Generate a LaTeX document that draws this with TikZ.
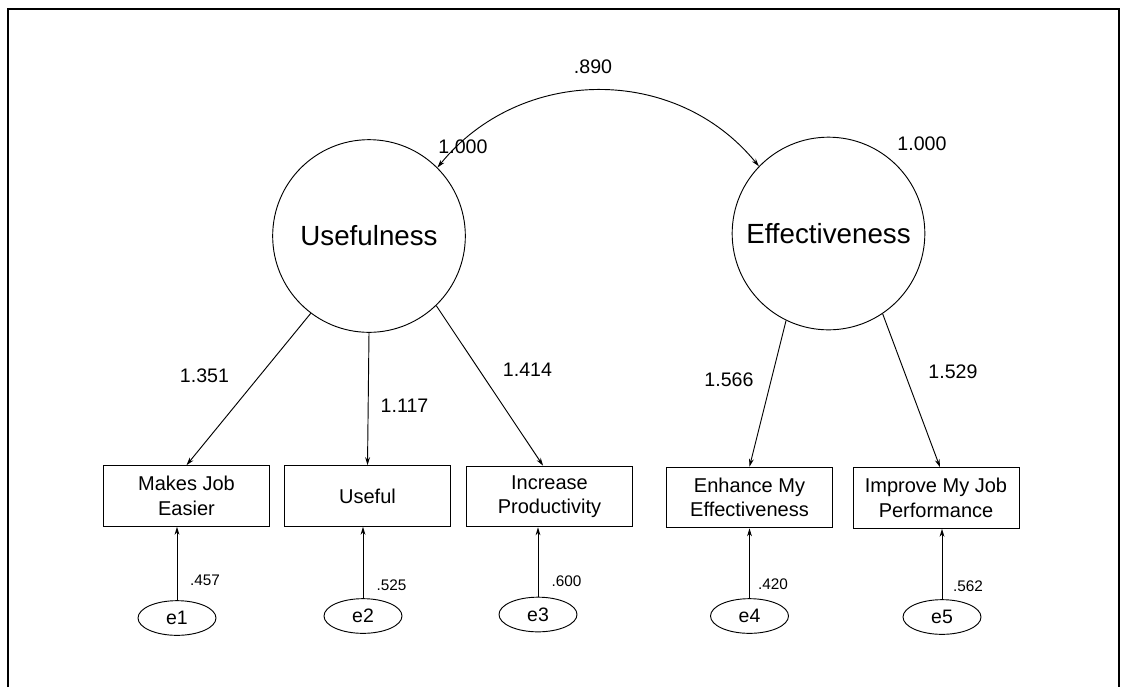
\documentclass[tikz,border=0pt]{standalone}
\usepackage{fontspec}
\setmainfont{Liberation Sans}
\usetikzlibrary{arrows.meta,shapes.geometric,calc}
\begin{document}
\begin{tikzpicture}[x=0.75pt,y=-0.75pt,
  ln/.style={line width=0.7pt},
  arr/.style={ln,-{Stealth[length=6pt,width=3.6pt]}},
  dbl/.style={ln,{Stealth[length=6pt,width=3.6pt]}-{Stealth[length=6pt,width=3.6pt]}},
  latent/.style={circle,draw,ln,minimum size=144.5pt,inner sep=0pt,font=\fontsize{20.8}{24}\selectfont},
  obs/.style={rectangle,draw,ln,minimum width=124.5pt,minimum height=45.5pt,inner sep=0pt,align=center,font=\fontsize{15}{18.4}\selectfont},
  err/.style={ellipse,draw,ln,minimum width=58.5pt,minimum height=26pt,inner sep=0pt,font=\fontsize{14.6}{17}\selectfont},
  num/.style={font=\fontsize{14.7}{17}\selectfont,inner sep=0pt},
  sm/.style={font=\fontsize{11.5}{13}\selectfont,inner sep=0pt},
  frame/.style={line width=1.5pt}]
\useasboundingbox (0,0) rectangle (1121,687);
\draw[frame] (7.5,687) -- (7.5,9) -- (1119,9) -- (1119,687);

% latent variables
\node[latent] (U) at (369,236) {Usefulness};
\node[latent] (E) at (828.5,233.5) {Effectiveness};

% observed variables
\node[obs] (b1) at (186.5,496) {Makes Job\\Easier};
\node[obs] (b2) at (367.5,496) {Useful};
\node[obs] (b3) at (549.5,496.5) {Increase\\Productivity};
\node[obs] (b4) at (749.5,497.5) {Enhance My\\Effectiveness};
\node[obs] (b5) at (936,498) {Improve My Job\\Performance};

% error terms
\node[err] (e1) at (177,618) {e1};
\node[err] (e2) at (363,616) {e2};
\node[err] (e3) at (538,614.5) {e3};
\node[err] (e4) at (749.5,616) {e4};
\node[err] (e5) at (942,617) {e5};

% covariance
\draw[dbl] (U.45.8) .. controls +(83,-102) and +(-83,-102) .. (E.136.2);
\node[num] (cov) at (593,67) {.890};
\node[num] (vU) at (463,147) {1.000};
\node[num] (vE) at (922,144) {1.000};

% loadings
\draw[arr] (U.-127.5) -- (b1.north);
\draw[arr] (U.-90) -- (b2.north);
\draw[arr] (U.-46.6) -- ([xshift=-4.8pt]b3.north);
\draw[arr] (E.-116) -- (b4.north);
\draw[arr] (E.-56.6) -- ([xshift=3pt]b5.north);
\node[num] (l1) at (204.5,376) {1.351};
\node[num] (l2) at (404.5,405.5) {1.117};
\node[num] (l3) at (527.5,370) {1.414};
\node[num] (l4) at (729,380) {1.566};
\node[num] (l5) at (953,372) {1.529};

% error paths
\draw[arr] (e1.north) -- (e1.north |- b1.south);
\draw[arr] (e2.north) -- (e2.north |- b2.south);
\draw[arr] (e3.north) -- (e3.north |- b3.south);
\draw[arr] (e4.north) -- (e4.north |- b4.south);
\draw[arr] (e5.north) -- (e5.north |- b5.south);
\node[sm] (r1) at (205,580) {.457};
\node[sm] (r2) at (391.5,585) {.525};
\node[sm] (r3) at (566.5,581) {.600};
\node[sm] (r4) at (773,584) {.420};
\node[sm] (r5) at (968,586) {.562};
\end{tikzpicture}
\end{document}
